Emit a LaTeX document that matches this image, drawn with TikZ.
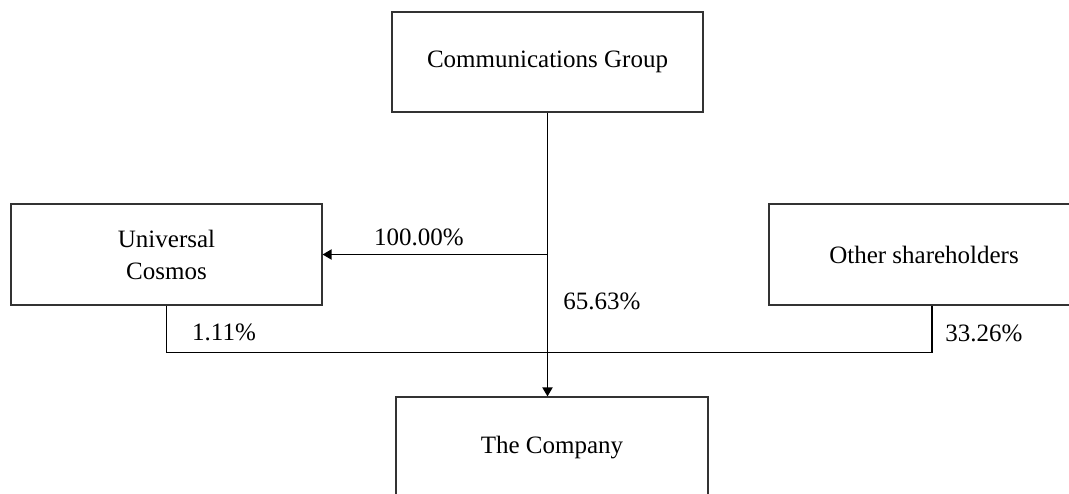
\documentclass[tikz,border=0pt]{standalone}
\usepackage{fontspec}
\setmainfont{Liberation Serif}
\usetikzlibrary{arrows.meta}
\begin{document}
\begin{tikzpicture}[x=1pt,y=-1pt,
  box/.style={draw=black!80, line width=1.1pt, inner sep=0pt, align=center,
    font=\fontsize{25}{32}\selectfont},
  conn/.style={line width=1.8pt, black},
  arr/.style={conn, -{Triangle[length=9pt,width=10pt]}},
  lbl/.style={inner sep=0pt, font=\fontsize{25}{32}\selectfont}]
\useasboundingbox (0,0) rectangle (1069,493);
\clip (0,0) rectangle (1069,493);
\node[box, minimum width=311pt, minimum height=100pt] (cg) at (547.5,62) {Communications Group};
\node[box, minimum width=311pt, minimum height=101pt] (uc) at (166.5,254.5) {Universal\\Cosmos};
\node[box, minimum width=310pt, minimum height=101pt] (os) at (924,254.5) {Other shareholders};
\node[box, minimum width=312pt, minimum height=102pt] (co) at (552,448) {The Company};
\coordinate (j) at (cg.south |- uc.east);
\coordinate (osb) at ([xshift=8pt]os.south);
\draw[arr] (cg.south) -- (cg.south |- co.north);
\draw[arr] (j) -- (uc.east);
\draw[conn] (uc.south) -- ++(0,47) -| (osb);
\node[lbl] (l100) at (419,237) {100.00\%};
\node[lbl] (l65) at (602,301) {65.63\%};
\node[lbl] (l1) at (224,332) {1.11\%};
\node[lbl] (l33) at (984,333) {33.26\%};
\end{tikzpicture}
\end{document}
